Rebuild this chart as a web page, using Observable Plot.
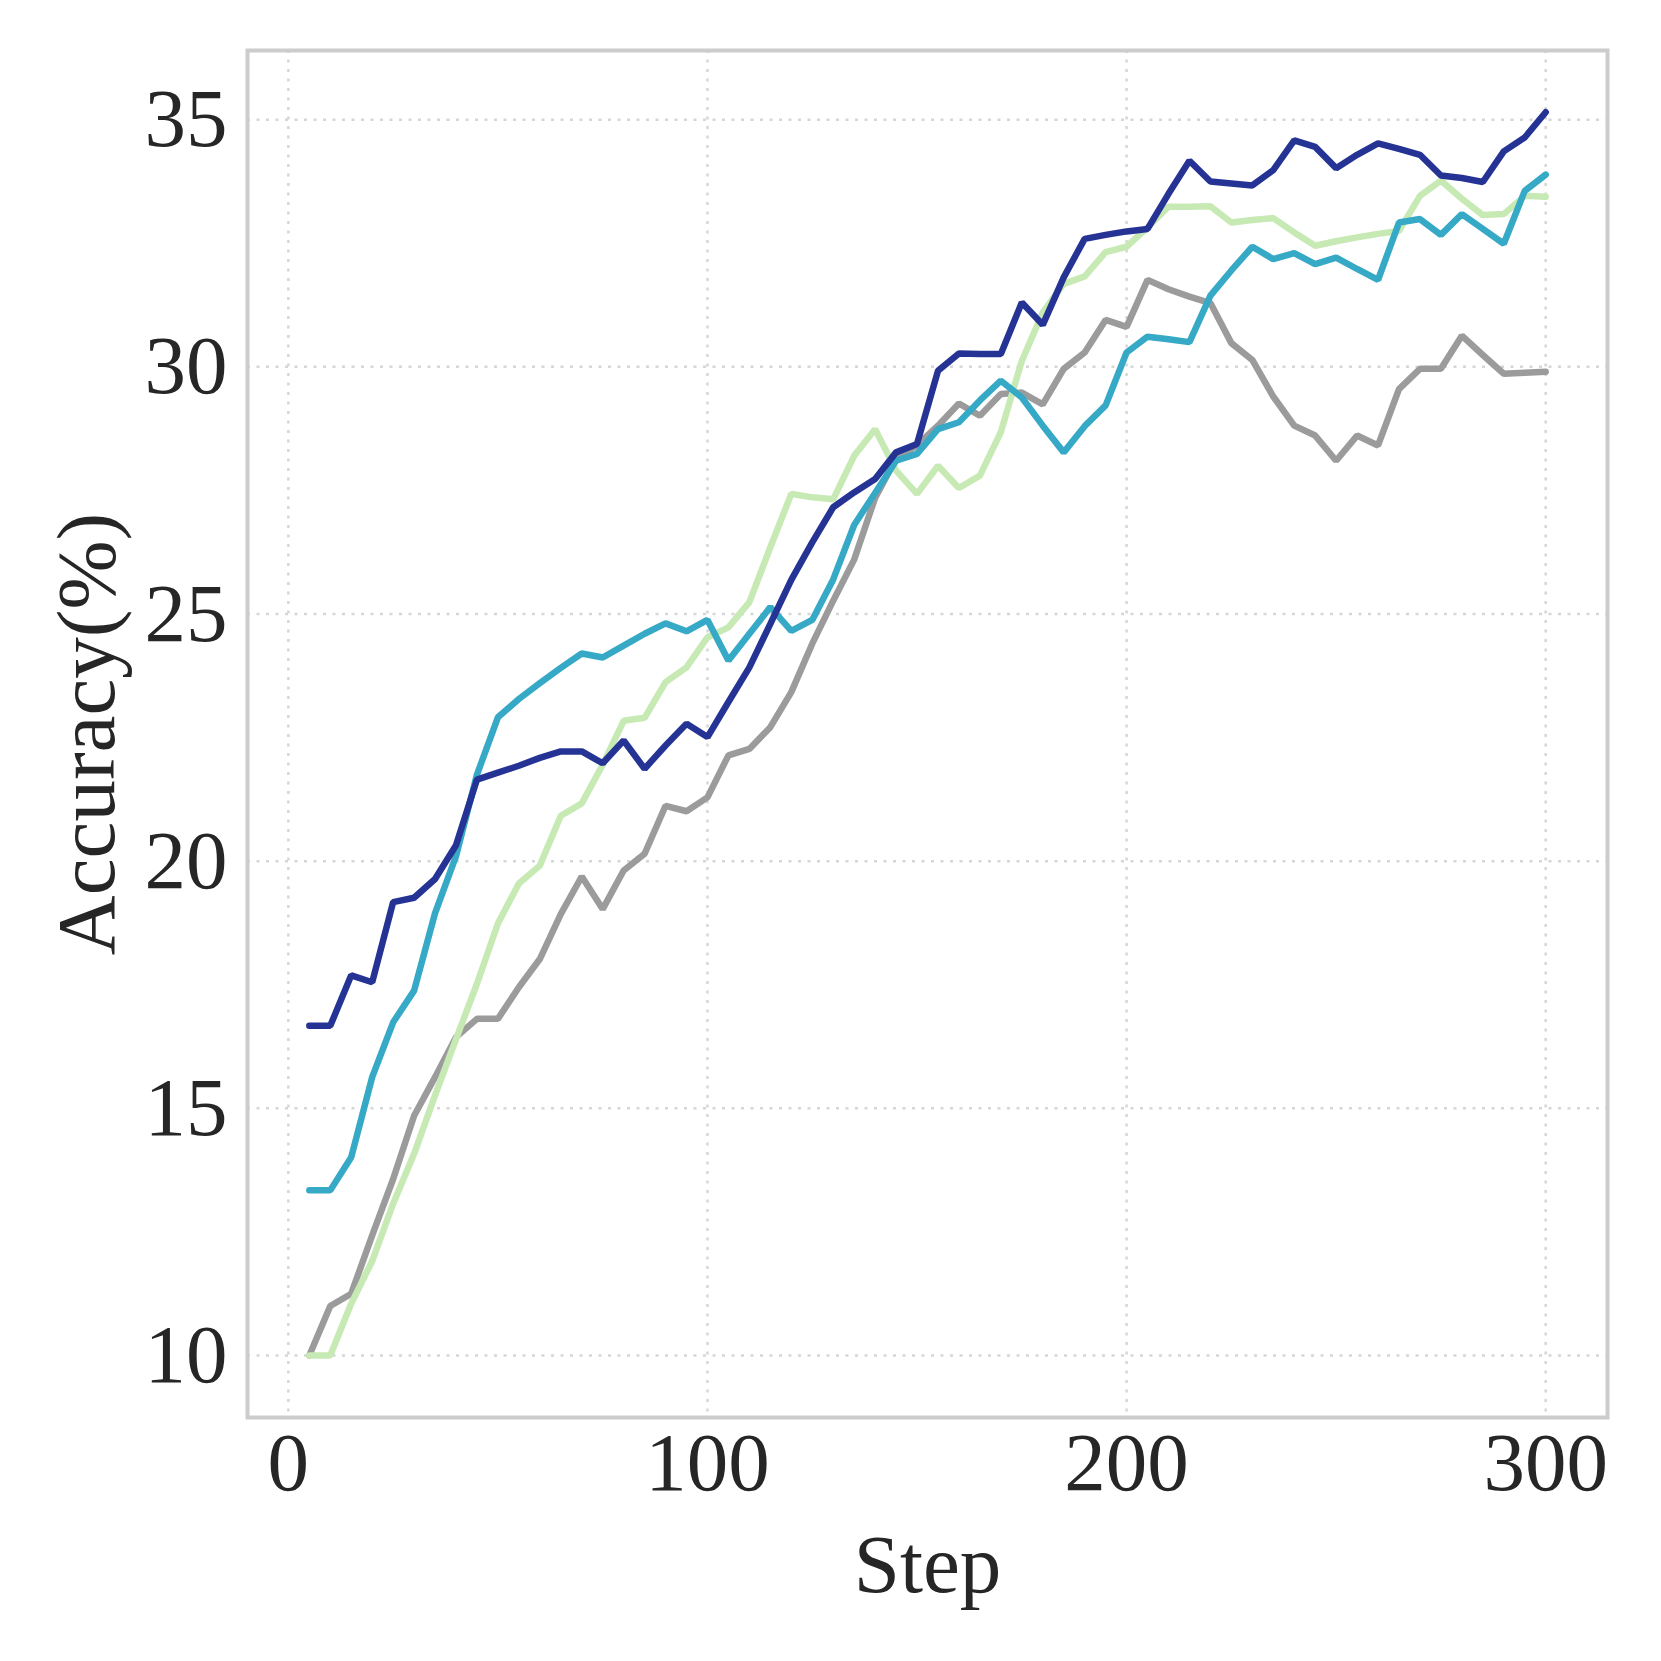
<!DOCTYPE html>
<html>
<head>
<meta charset="utf-8">
<script src="https://cdn.jsdelivr.net/npm/d3@7"></script>
<script src="https://cdn.jsdelivr.net/npm/@observablehq/plot@0.6"></script>
<style>html,body{margin:0;padding:0;background:#fff;}</style>
</head>
<body>
<div id="chart"></div>
<script>
const steps = [5,10,15,20,25,30,35,40,45,50,55,60,65,70,75,80,85,90,95,100,
  105,110,115,120,125,130,135,140,145,150,155,160,165,170,175,180,185,190,195,200,
  205,210,215,220,225,230,235,240,245,250,255,260,265,270,275,280,285,290,295,300];

const seriesDValues = [10.0,11.0,11.25,12.43,13.57,14.85,15.63,16.44,16.81,16.81,17.45,18.02,18.93,19.69,19.03,19.81,20.15,21.12,21.01,21.29,
  22.14,22.27,22.71,23.42,24.4,25.27,26.1,27.35,28.14,28.41,28.81,29.26,29.01,29.45,29.48,29.24,29.96,30.29,30.95,30.81,
  31.76,31.57,31.42,31.29,30.48,30.14,29.4,28.81,28.61,28.1,28.61,28.41,29.55,29.96,29.96,30.63,30.24,29.86,29.88,29.9];

const seriesCValues = [10.0,10.0,11.05,11.91,13.07,14.08,15.26,16.4,17.52,18.74,19.55,19.91,20.92,21.17,21.95,22.84,22.9,23.62,23.92,24.53,
  24.73,25.24,26.35,27.43,27.36,27.32,28.2,28.74,27.9,27.43,28.0,27.55,27.8,28.68,30.12,31.1,31.68,31.83,32.32,32.43,
  32.82,33.24,33.24,33.25,32.92,32.97,33.01,32.72,32.45,32.54,32.62,32.69,32.75,33.46,33.77,33.4,33.07,33.09,33.46,33.44];

const seriesBValues = [13.34,13.34,14.01,15.63,16.74,17.38,18.95,20.1,21.75,22.91,23.28,23.6,23.91,24.2,24.12,24.36,24.6,24.81,24.65,24.88,
  24.06,24.6,25.14,24.66,24.88,25.7,26.8,27.45,28.1,28.24,28.74,28.88,29.32,29.72,29.38,28.81,28.27,28.8,29.22,30.29,
  30.61,30.56,30.5,31.44,31.95,32.43,32.18,32.3,32.08,32.21,31.98,31.76,32.92,32.99,32.67,33.09,32.79,32.49,33.56,33.89];

const seriesAValues = [16.67,16.67,17.69,17.55,19.17,19.26,19.64,20.32,21.65,21.79,21.93,22.09,22.22,22.22,21.98,22.44,21.87,22.34,22.78,22.51,
  23.22,23.92,24.8,25.69,26.45,27.16,27.46,27.73,28.27,28.44,29.92,30.27,30.26,30.26,31.3,30.85,31.81,32.59,32.67,32.74,
  32.79,33.5,34.17,33.75,33.71,33.67,33.98,34.58,34.45,34.02,34.29,34.52,34.41,34.29,33.87,33.82,33.74,34.36,34.64,35.15];

const seriesNames = ["Series D", "Series C", "Series B", "Series A"];
const seriesColors = ["#9b9b9b", "#c7e9b4", "#35a9c5", "#253494"];
const seriesValues = [seriesDValues, seriesCValues, seriesBValues, seriesAValues];

const xTicks = [0, 100, 200, 300];
const yTicks = [10, 15, 20, 25, 30, 35];
const xLabel = "Step";
const yLabel = "Accuracy(%)";

const rows = seriesNames.flatMap((name, i) =>
  steps.map((s, j) => ({step: s, acc: seriesValues[i][j], series: name})));

const textColor = "#262626";
const fs = 83;

const chart = Plot.plot({
  width: 1661,
  height: 1661,
  marginLeft: 247,
  marginRight: 54,
  marginTop: 50,
  marginBottom: 244,
  style: {fontFamily: "'Liberation Serif', 'Times New Roman', serif", fontSize: fs + "px", color: textColor, background: "#fff"},
  x: {domain: [-9.75, 314.75]},
  y: {domain: [8.745, 36.4]},
  color: {domain: seriesNames, range: seriesColors},
  marks: [
    Plot.gridX({ticks: xTicks, stroke: "#d6d6d6", strokeOpacity: 1, strokeWidth: 2.5, strokeDasharray: "3,6.5"}),
    Plot.gridY({ticks: yTicks, stroke: "#d6d6d6", strokeOpacity: 1, strokeWidth: 2.5, strokeDasharray: "3,6.5"}),
    Plot.line(rows, {x: "step", y: "acc", z: "series", stroke: "series", strokeWidth: 6.5, strokeLinejoin: "miter", strokeLinecap: "round"}),
    Plot.frame({stroke: "#cccccc", strokeWidth: 4}),
    Plot.axisX({ticks: xTicks, tickSize: 0, tickPadding: 14, label: null, fontSize: fs, fill: textColor}),
    Plot.axisY({ticks: yTicks, tickSize: 0, tickPadding: 20, label: null, fontSize: fs, fill: textColor}),
    Plot.text([xLabel], {text: d => d, frameAnchor: "bottom", dy: 148, lineAnchor: "middle", textAnchor: "middle", fontSize: fs, fill: textColor}),
    Plot.text([yLabel], {text: d => d, frameAnchor: "left", rotate: -90, dx: -160, lineAnchor: "middle", textAnchor: "middle", fontSize: fs, fill: textColor})
  ]
});
document.getElementById("chart").appendChild(chart);
</script>
</body>
</html>
